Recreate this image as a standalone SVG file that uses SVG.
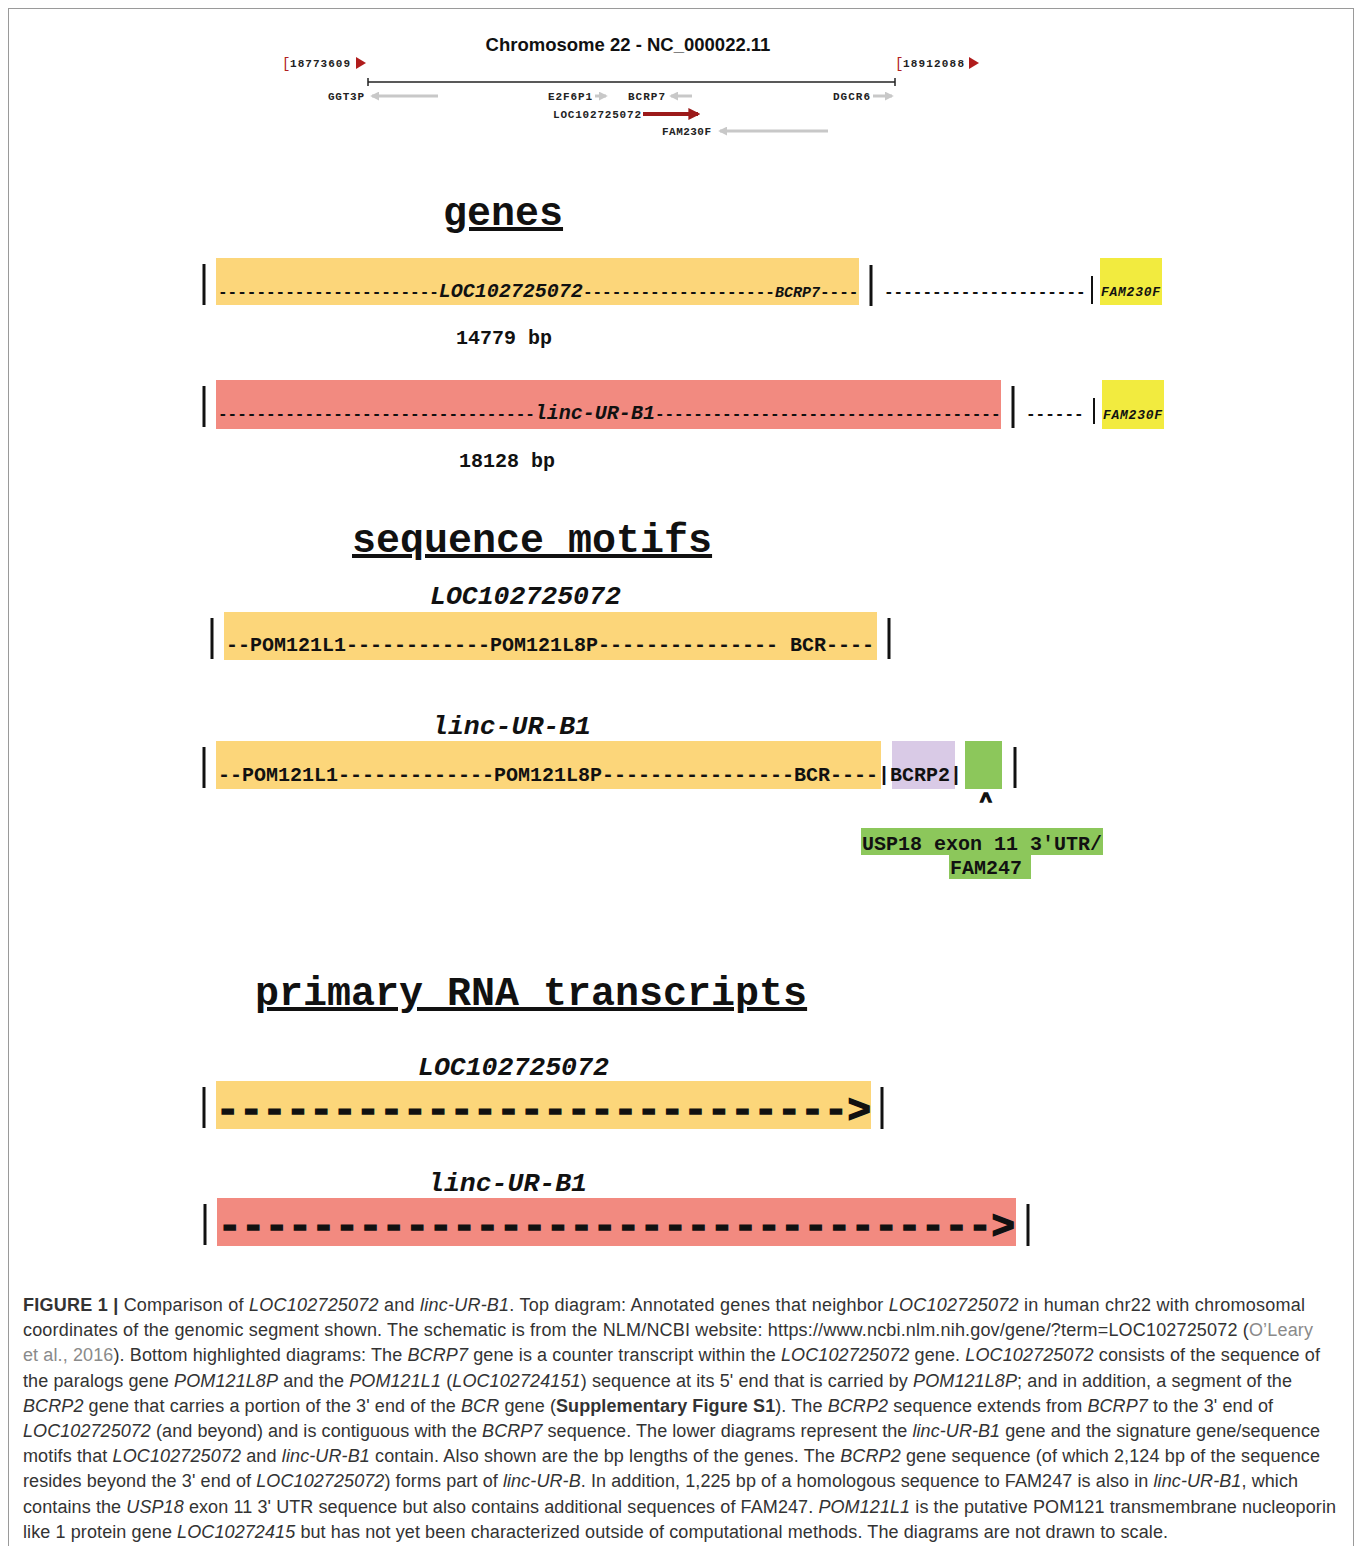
<svg xmlns="http://www.w3.org/2000/svg" width="1356" height="1546" viewBox="0 0 1356 1546">
<style>
.mono{font-family:"Liberation Mono","DejaVu Sans Mono",monospace;font-weight:bold;fill:#111}
.it{font-style:italic}
.head{font-family:"Liberation Mono","DejaVu Sans Mono",monospace;font-weight:bold;font-size:40px;fill:#111;text-decoration:underline}
.small{font-family:"Liberation Mono","DejaVu Sans Mono",monospace;font-size:11px;font-weight:bold;fill:#222}
.bar{stroke:#111;stroke-width:3}
.yel{fill:#FCD67A}
.red{fill:#F28A80}
.fam{fill:#F2EB3F}
.cap{font-family:"Liberation Sans","Arial",sans-serif;font-size:18px;fill:#333}
.i{font-style:italic}
.b{font-weight:bold}
.gr{fill:#8a8a8a}
.garr{stroke:#c8c8c8;stroke-width:3;fill:none}
.thick{stroke:#111;stroke-width:1.5}
</style>
<defs>
<marker id="gh" viewBox="0 0 10 10" refX="8" refY="5" markerWidth="3" markerHeight="3" orient="auto"><path d="M0,0 L10,5 L0,10 z" fill="#c8c8c8"/></marker>
<marker id="rh" viewBox="0 0 10 10" refX="8" refY="5" markerWidth="3" markerHeight="3" orient="auto"><path d="M0,0 L10,5 L0,10 z" fill="#9c1a1a"/></marker>
</defs>
<rect x="8.5" y="8.5" width="1345" height="1560" fill="#fff" stroke="#9a9a9a" stroke-width="1"/>

<g id="chromosome">
<text x="628" y="51" text-anchor="middle" font-family="Liberation Sans, Arial, sans-serif" font-weight="bold" font-size="18.5" fill="#111">Chromosome 22 - NC_000022.11</text>
<text x="282" y="68" font-family="Liberation Mono, monospace" font-size="14" fill="#b02020">[</text>
<text x="290" y="67" class="small" textLength="60">18773609</text>
<polygon points="356,57 366,63 356,69" fill="#b01c1c"/>
<text x="895" y="68" font-family="Liberation Mono, monospace" font-size="14" fill="#b02020">[</text>
<text x="903" y="67" class="small" textLength="61">18912088</text>
<polygon points="969,57 979,63 969,69" fill="#b01c1c"/>
<line x1="368" y1="82" x2="895" y2="82" stroke="#222" stroke-width="1.5"/>
<line x1="368" y1="78" x2="368" y2="86" stroke="#222" stroke-width="1.5"/>
<line x1="895" y1="78" x2="895" y2="86" stroke="#222" stroke-width="1.5"/>
<text x="328" y="100" class="small" textLength="36">GGT3P</text>
<line x1="438" y1="96" x2="372" y2="96" class="garr" marker-end="url(#gh)"/>
<text x="548" y="100" class="small" textLength="44">E2F6P1</text>
<line x1="595" y1="96" x2="606" y2="96" class="garr" marker-end="url(#gh)"/>
<text x="628" y="100" class="small" textLength="37">BCRP7</text>
<line x1="692" y1="96" x2="671" y2="96" class="garr" marker-end="url(#gh)"/>
<text x="833" y="100" class="small" textLength="37">DGCR6</text>
<line x1="873" y1="96" x2="892" y2="96" class="garr" marker-end="url(#gh)"/>
<text x="553" y="118" class="small" textLength="88">LOC102725072</text>
<line x1="643" y1="114" x2="698" y2="114" stroke="#9c1a1a" stroke-width="4" marker-end="url(#rh)"/>
<text x="662" y="135" class="small" textLength="49">FAM230F</text>
<line x1="828" y1="131" x2="720" y2="131" class="garr" marker-end="url(#gh)"/>
</g>

<g id="genes-heading"><text x="443" y="225" class="head">genes</text></g>

<g id="gene-loc">
<rect x="216" y="258" width="643" height="47" class="yel"/>
<line x1="204" y1="264" x2="204" y2="305" class="bar"/>
<line x1="871" y1="265" x2="871" y2="306" class="bar"/>
<text y="297" class="mono" font-size="16"><tspan x="218">-----------------------</tspan><tspan class="it" font-size="20">LOC102725072</tspan><tspan>--------------------</tspan><tspan class="it" font-size="15">BCRP7</tspan><tspan>----</tspan></text>
<text x="884" y="297" class="mono" font-size="16">---------------------</text>
<line x1="1092" y1="276" x2="1092" y2="304" stroke="#111" stroke-width="2"/>
<rect x="1100" y="258" width="62" height="47" class="fam"/>
<text x="1101" y="296" class="mono it" font-size="13" textLength="59">FAM230F</text>
<text x="456" y="344" class="mono" font-size="20">14779 bp</text>
</g>

<g id="gene-linc">
<rect x="216" y="380" width="785" height="49" class="red"/>
<line x1="204" y1="386" x2="204" y2="427" class="bar"/>
<line x1="1013" y1="386" x2="1013" y2="428" class="bar"/>
<text y="419" class="mono" font-size="16"><tspan x="218">---------------------------------</tspan><tspan class="it" font-size="20">linc-UR-B1</tspan><tspan>------------------------------------</tspan></text>
<text x="1026" y="419" class="mono" font-size="16">------</text>
<line x1="1094" y1="398" x2="1094" y2="424" stroke="#111" stroke-width="2"/>
<rect x="1102" y="380" width="62" height="49" class="fam"/>
<text x="1103" y="419" class="mono it" font-size="13" textLength="59">FAM230F</text>
<text x="459" y="467" class="mono" font-size="20">18128 bp</text>
</g>

<g id="motifs-heading"><text x="352" y="552" class="head">sequence motifs</text></g>

<g id="motif-loc">
<text x="430" y="604" class="mono it" font-size="26.5">LOC102725072</text>
<rect x="224" y="612" width="653" height="48" class="yel"/>
<line x1="212" y1="618" x2="212" y2="659" class="bar"/>
<line x1="889" y1="618" x2="889" y2="659" class="bar"/>
<text x="226" y="651" class="mono" font-size="20">--POM121L1------------POM121L8P--------------- BCR----</text>
</g>

<g id="motif-linc">
<text x="432" y="734" class="mono it" font-size="26.5">linc-UR-B1</text>
<rect x="216" y="741" width="665" height="48" class="yel"/>
<rect x="892" y="741" width="63" height="48" fill="#D9CAE6"/>
<rect x="965" y="741" width="37" height="48" fill="#8CC75B"/>
<line x1="204" y1="747" x2="204" y2="788" class="bar"/>
<line x1="1015" y1="747" x2="1015" y2="788" class="bar"/>
<text x="218" y="781" class="mono" font-size="20">--POM121L1-------------POM121L8P----------------BCR----|BCRP2|</text>
<text x="986" y="807" class="mono thick" font-size="20" text-anchor="middle">^</text>
<rect x="861" y="828" width="242" height="27" fill="#8CC75B"/>
<rect x="949" y="855" width="82" height="24" fill="#8CC75B"/>
<text x="862" y="850" class="mono" font-size="20">USP18 exon 11 3'UTR/</text>
<text x="950" y="874" class="mono" font-size="20">FAM247</text>
</g>

<g id="transcripts-heading"><text x="255" y="1005" class="head">primary RNA transcripts</text></g>

<g id="transcript-loc">
<text x="418" y="1075" class="mono it" font-size="26.5">LOC102725072</text>
<rect x="216" y="1081" width="655" height="48" class="yel"/>
<line x1="204" y1="1087" x2="204" y2="1128" class="bar"/>
<line x1="882" y1="1087" x2="882" y2="1129" class="bar"/>
<text x="216" y="1122" class="mono thick" font-size="39" textLength="655">---------------------------&gt;</text>
</g>

<g id="transcript-linc">
<text x="428" y="1191" class="mono it" font-size="26.5">linc-UR-B1</text>
<rect x="217" y="1198" width="799" height="48" class="red"/>
<line x1="205" y1="1204" x2="205" y2="1245" class="bar"/>
<line x1="1028" y1="1204" x2="1028" y2="1246" class="bar"/>
<text x="218" y="1238" class="mono thick" font-size="39" textLength="797">---------------------------------&gt;</text>
</g>

<g id="caption" class="cap">
<text x="23" y="1311" textLength="1282" lengthAdjust="spacing"><tspan class="b">FIGURE 1</tspan> <tspan class="b">|</tspan> Comparison of <tspan class="i">LOC102725072</tspan> and <tspan class="i">linc-UR-B1</tspan>. Top diagram: Annotated genes that neighbor <tspan class="i">LOC102725072</tspan> in human chr22 with chromosomal</text>
<text x="23" y="1336" textLength="1290" lengthAdjust="spacing">coordinates of the genomic segment shown. The schematic is from the NLM/NCBI website: https://www.ncbi.nlm.nih.gov/gene/?term=LOC102725072 (<tspan class="gr">O’Leary</tspan></text>
<text x="23" y="1361" textLength="1297" lengthAdjust="spacing"><tspan class="gr">et al., 2016</tspan>). Bottom highlighted diagrams: The <tspan class="i">BCRP7</tspan> gene is a counter transcript within the <tspan class="i">LOC102725072</tspan> gene. <tspan class="i">LOC102725072</tspan> consists of the sequence of</text>
<text x="23" y="1387" textLength="1269" lengthAdjust="spacing">the paralogs gene <tspan class="i">POM121L8P</tspan> and the <tspan class="i">POM121L1</tspan> (<tspan class="i">LOC102724151</tspan>) sequence at its 5' end that is carried by <tspan class="i">POM121L8P</tspan>; and in addition, a segment of the</text>
<text x="23" y="1412" textLength="1250" lengthAdjust="spacing"><tspan class="i">BCRP2</tspan> gene that carries a portion of the 3' end of the <tspan class="i">BCR</tspan> gene (<tspan class="b">Supplementary Figure S1</tspan>). The <tspan class="i">BCRP2</tspan> sequence extends from <tspan class="i">BCRP7</tspan> to the 3' end of</text>
<text x="23" y="1437" textLength="1297" lengthAdjust="spacing"><tspan class="i">LOC102725072</tspan> (and beyond) and is contiguous with the <tspan class="i">BCRP7</tspan> sequence. The lower diagrams represent the <tspan class="i">linc-UR-B1</tspan> gene and the signature gene/sequence</text>
<text x="23" y="1462" textLength="1297" lengthAdjust="spacing">motifs that <tspan class="i">LOC102725072</tspan> and <tspan class="i">linc-UR-B1</tspan> contain. Also shown are the bp lengths of the genes. The <tspan class="i">BCRP2</tspan> gene sequence (of which 2,124 bp of the sequence</text>
<text x="23" y="1487" textLength="1275" lengthAdjust="spacing">resides beyond the 3' end of <tspan class="i">LOC102725072</tspan>) forms part of <tspan class="i">linc-UR-B</tspan>. In addition, 1,225 bp of a homologous sequence to FAM247 is also in <tspan class="i">linc-UR-B1</tspan>, which</text>
<text x="23" y="1513" textLength="1313" lengthAdjust="spacing">contains the <tspan class="i">USP18</tspan> exon 11 3' UTR sequence but also contains additional sequences of FAM247. <tspan class="i">POM121L1</tspan> is the putative POM121 transmembrane nucleoporin</text>
<text x="23" y="1538" textLength="1145" lengthAdjust="spacing">like 1 protein gene <tspan class="i">LOC10272415</tspan> but has not yet been characterized outside of computational methods. The diagrams are not drawn to scale.</text>
</g>
</svg>
